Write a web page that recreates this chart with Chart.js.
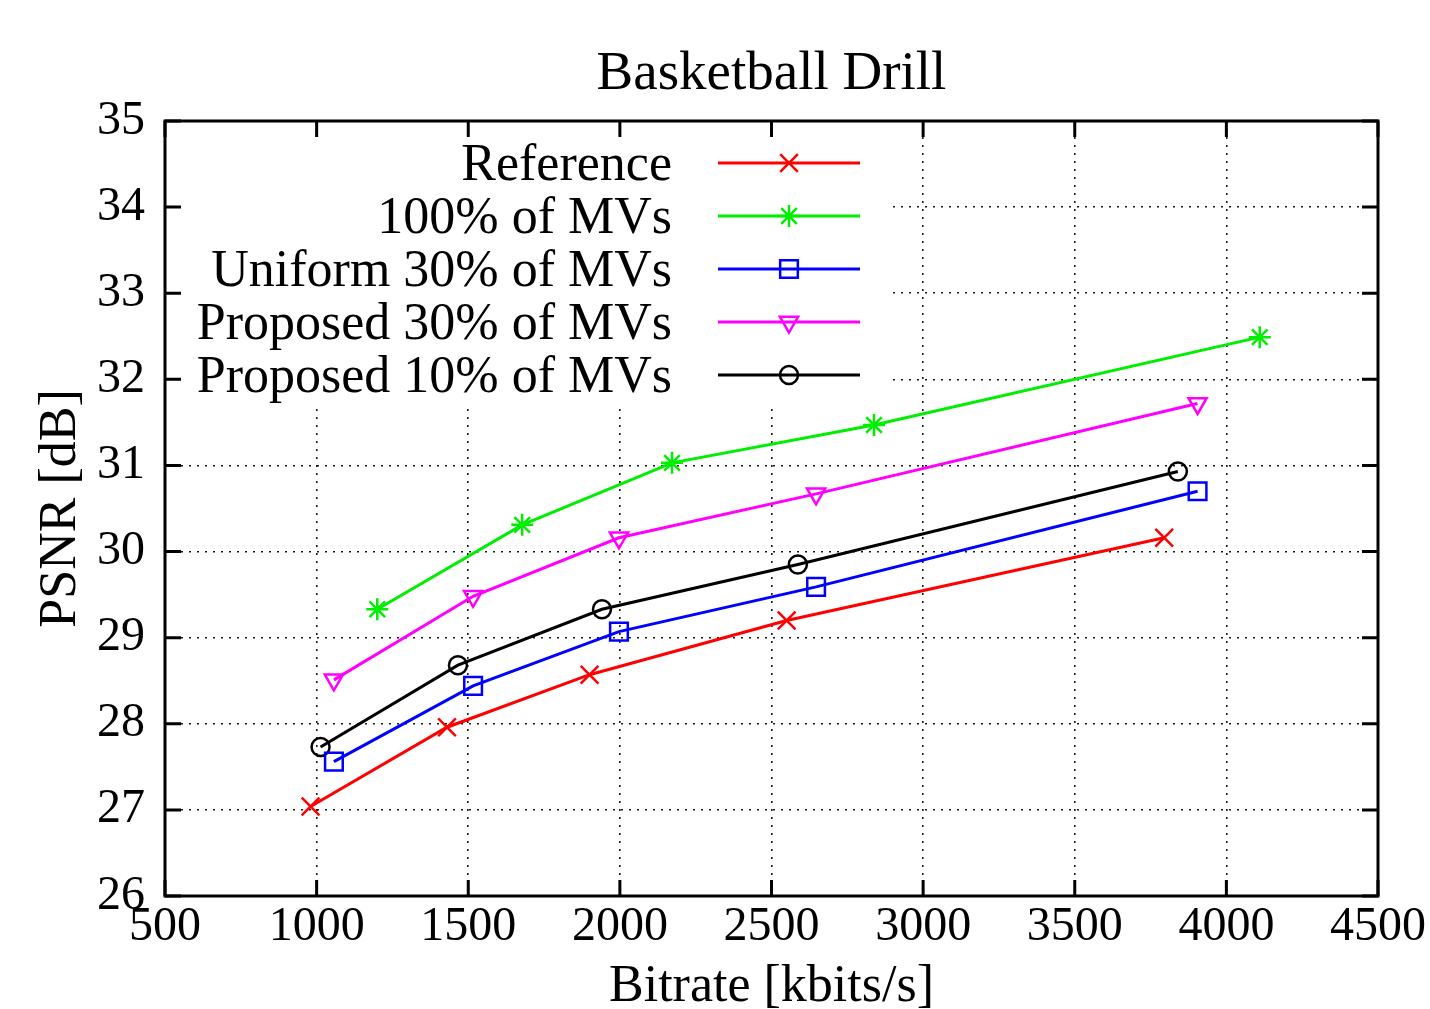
<!DOCTYPE html>
<html>
<head>
<meta charset="utf-8">
<title>Basketball Drill</title>
<script src="https://cdn.jsdelivr.net/npm/chart.js@4.4.1/dist/chart.umd.min.js"></script>
<style>
  html, body { margin: 0; padding: 0; background: #fff; }
  canvas { display: block; }
</style>
</head>
<body>
<canvas id="rdChart" width="1430" height="1009"></canvas>
<script>
// Rate-distortion points (bitrate in kbit/s, PSNR in dB)
const refRate = [980, 1430, 1900, 2550, 3795];
const refPsnr = [27.04, 27.96, 28.57, 29.20, 30.16];
const allRate = [1200, 1678, 2172, 2838, 4110];
const allPsnr = [29.33, 30.31, 31.03, 31.47, 32.49];
const uniRate = [1057, 1516, 1997, 2647, 3905];
const uniPsnr = [27.56, 28.44, 29.07, 29.59, 30.70];
const p30Rate = [1057, 1516, 1997, 2647, 3905];
const p30Psnr = [28.51, 29.48, 30.16, 30.67, 31.72];
const p10Rate = [1013, 1466, 1941, 2587, 3840];
const p10Psnr = [27.73, 28.68, 29.33, 29.85, 30.93];

const seriesLabels = ['Reference', '100% of MVs', 'Uniform 30% of MVs', 'Proposed 30% of MVs', 'Proposed 10% of MVs'];
const xTicks = [500, 1000, 1500, 2000, 2500, 3000, 3500, 4000, 4500];
const yTicks = [26, 27, 28, 29, 30, 31, 32, 33, 34, 35];

const SERIF = '"Liberation Serif", "Times New Roman", serif';
Chart.defaults.font.family = SERIF;
Chart.defaults.color = '#000';

const toPoints = (xs, ys) => xs.map((x, i) => ({ x: x, y: ys[i] }));

function series(label, xs, ys, color, style, radius, rotation) {
  return {
    label: label,
    data: toPoints(xs, ys),
    borderColor: color,
    backgroundColor: 'transparent',
    borderWidth: 3,
    pointStyle: style,
    pointRadius: radius,
    pointRotation: rotation || 0,
    pointBorderColor: color,
    pointBackgroundColor: 'transparent',
    pointBorderWidth: 2.5,
    tension: 0
  };
}

// legend box sits over the upper left of the plot, like gnuplot's opaque key
const keyBox = { right: 890, bottom: 403 };

const framePlugin = {
  id: 'frame',
  beforeDatasetsDraw(chart) {
    const { ctx, chartArea: a, scales } = chart;
    ctx.save();
    // hide the grid behind the key
    ctx.fillStyle = '#fff';
    ctx.fillRect(a.left, a.top, keyBox.right - a.left, keyBox.bottom - a.top);

    ctx.strokeStyle = '#000';
    ctx.lineWidth = 3;
    ctx.strokeRect(a.left, a.top, a.right - a.left, a.bottom - a.top);

    // inward tick marks on all four sides
    const tl = 16;
    ctx.beginPath();
    xTicks.forEach(v => {
      const px = scales.x.getPixelForValue(v);
      ctx.moveTo(px, a.bottom); ctx.lineTo(px, a.bottom - tl);
      ctx.moveTo(px, a.top); ctx.lineTo(px, a.top + tl);
    });
    yTicks.forEach(v => {
      const py = scales.y.getPixelForValue(v);
      ctx.moveTo(a.left, py); ctx.lineTo(a.left + tl, py);
      ctx.moveTo(a.right, py); ctx.lineTo(a.right - tl, py);
    });
    ctx.stroke();
    ctx.restore();
  },
  afterDraw(chart) {
    const { ctx, chartArea: a } = chart;
    ctx.save();
    // title
    ctx.fillStyle = '#000';
    ctx.font = '55px ' + SERIF;
    ctx.textAlign = 'center';
    ctx.textBaseline = 'alphabetic';
    ctx.fillText('Basketball Drill', (a.left + a.right) / 2, 89);

    // key
    ctx.font = '52px ' + SERIF;
    ctx.textAlign = 'right';
    ctx.textBaseline = 'middle';
    chart.data.datasets.forEach((ds, i) => {
      const y = 163 + i * 53;
      ctx.fillStyle = '#000';
      ctx.fillText(ds.label, 672, y + 3);
      ctx.strokeStyle = ds.borderColor;
      ctx.lineWidth = ds.borderWidth;
      ctx.beginPath();
      ctx.moveTo(718, y);
      ctx.lineTo(860, y);
      ctx.stroke();
      ctx.fillStyle = 'transparent';
      ctx.lineWidth = ds.pointBorderWidth;
      Chart.helpers.drawPoint(ctx, {
        pointStyle: ds.pointStyle,
        rotation: ds.pointRotation,
        radius: ds.pointRadius,
        borderWidth: ds.pointBorderWidth
      }, 789, y);
    });
    ctx.restore();
  }
};

const gridStyle = { color: 'rgba(0,0,0,0.9)', lineWidth: 1.6, drawTicks: false };

const ctx = document.getElementById('rdChart').getContext('2d');
const rdChart = new Chart(ctx, {
  type: 'line',
  data: {
    datasets: [
      series(seriesLabels[0], refRate, refPsnr, '#ff0000', 'crossRot', 12.5),
      series(seriesLabels[1], allRate, allPsnr, '#00ee00', 'star', 11),
      series(seriesLabels[2], uniRate, uniPsnr, '#0000ff', 'rect', 12.5),
      series(seriesLabels[3], p30Rate, p30Psnr, '#ff00ff', 'triangle', 10.5, 180),
      series(seriesLabels[4], p10Rate, p10Psnr, '#000000', 'circle', 9)
    ]
  },
  options: {
    responsive: false,
    animation: false,
    devicePixelRatio: 1,
    layout: { padding: { top: 121, right: 52, left: 0, bottom: 0 } },
    plugins: {
      legend: { display: false },
      tooltip: { enabled: false }
    },
    scales: {
      x: {
        type: 'linear',
        min: 500,
        max: 4500,
        afterBuildTicks: s => { s.ticks = xTicks.map(v => ({ value: v })); },
        afterFit: s => { s.height = 113; },
        grid: gridStyle,
        border: { display: false, dash: [2, 6] },
        ticks: {
          font: { size: 48, lineHeight: 1.2 }, color: '#000', padding: 3,
          maxRotation: 0, autoSkip: false,
          callback: v => String(v)
        },
        title: { display: true, text: 'Bitrate [kbits/s]', font: { size: 52, lineHeight: 0.82 }, color: '#000', padding: 0 }
      },
      y: {
        type: 'linear',
        min: 26,
        max: 35,
        afterBuildTicks: s => { s.ticks = yTicks.map(v => ({ value: v })); },
        afterFit: s => { s.width = 165; },
        grid: gridStyle,
        border: { display: false, dash: [2, 6] },
        ticks: { font: { size: 48 }, color: '#000', padding: 20, autoSkip: false, callback: v => String(v) },
        title: { display: true, text: 'PSNR [dB]', font: { size: 52, lineHeight: 1 }, color: '#000', padding: { top: 35, bottom: 0 } }
      }
    }
  },
  plugins: [framePlugin]
});
</script>
</body>
</html>
